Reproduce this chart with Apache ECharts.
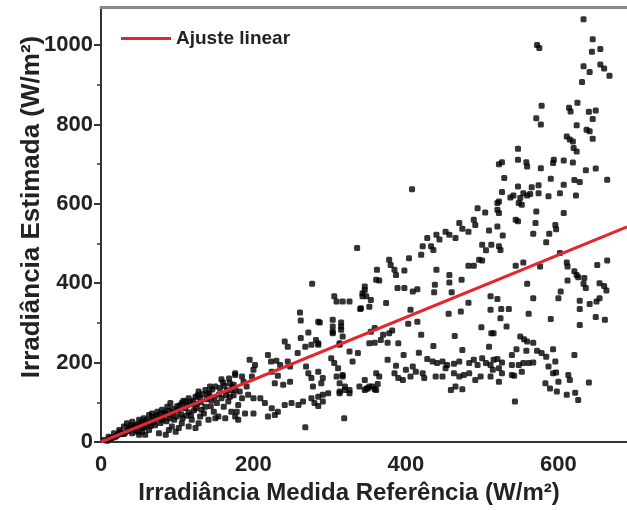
<!DOCTYPE html>
<html>
<head>
<meta charset="utf-8">
<script src="https://cdn.jsdelivr.net/npm/echarts@6/dist/echarts.min.js"></script>
<style>
html,body{margin:0;padding:0;background:#fff;}
#c{width:627px;height:510px;}
</style>
</head>
<body>
<div id="c"></div>
<script>
// ---- data ----
var xTickLabels = [0, 200, 400, 600];
var yTickLabels = [0, 200, 400, 600, 800, 1000];
var yMinorTicks = [100, 300, 500, 700, 900];
var fitName = 'Ajuste linear';
var fitLine = [[0, 0], [690, 542]];

// dense cloud near the origin
var pointsLow = [
[176,173],[158,158],[169,148],[176,131],[143,140],[137,131],[128,127],[124,114],[115,110],[111,102],[106,98],[91,98],[87,89],[80,81],[74,76],[67,72],[63,68],[56,60],[50,56],[41,51],[34,47],[30,39],[24,30],[17,22],[10,13],[4,5],
[167,102],[161,89],[171,76],[163,60],[154,64],[148,76],[141,56],[130,64],[128,47],[119,56],[124,35],[115,39],[106,47],[102,35],[93,39],[89,30],[98,26],[85,18],[76,22],[63,30],[54,26],[58,18],[50,18],[41,22],[37,35],[150,60],[132,81],[137,89],
[45,40],[55,45],[65,55],[75,60],[85,70],[95,75],[100,90],[120,95],[130,110],[140,120],[150,140],[160,150],[20,15],[25,25],[30,20],[45,30],[55,35],[65,40],[70,50],[80,55],[90,60],[105,70],[115,75],[125,85],[8,3],[12,8],[35,28],[60,48],[110,85],[145,105],[155,120],[165,130]
];
// extra points filling the solid band near the origin
var pointsLowBand = [
[14,10],[18,12],[22,18],[27,20],[32,24],[36,32],[39,42],[43,36],[47,44],[48,26],[52,40],[53,50],[57,38],[59,55],[61,44],[66,48],[68,62],[71,42],[72,66],[77,70],[78,48],[82,62],[83,74],[86,52],[88,78],[92,68],[94,84],[96,56],[99,64],[101,80],[103,92],[107,60],[108,104],[112,66],[113,92],[117,100],[118,68],[121,104],[122,80],[126,96],[127,118],[131,100],[133,120],[135,72],[139,108],[142,124],[144,90],[146,132],[149,112],[152,98],[156,136],[158,110],[162,142],[164,118],[168,160],[172,138],[174,118]
];
// middle range 165-365
var pointsMid = [
[336,489],[277,399],[306,367],[309,354],[317,354],[326,354],[346,383],[343,367],[341,337],[261,326],[262,306],[285,303],[304,291],[315,291],[304,274],[317,266],[272,276],[262,262],[268,240],[276,245],[282,257],[285,245],[241,253],[245,240],[258,224],[313,245],[326,228],[330,203],
[219,219],[223,203],[230,205],[235,194],[245,203],[248,190],[195,207],[202,194],[200,182],[198,165],[176,169],[185,165],[187,152],[191,140],[174,144],[171,131],[169,114],[182,127],[185,110],[180,93],[178,76],
[224,177],[232,167],[228,148],[239,144],[248,152],[269,190],[272,173],[276,161],[278,140],[309,165],[317,165],[320,140],[313,127],[326,131],[339,140],[346,131],
[193,119],[200,110],[209,110],[215,98],[224,85],[232,76],[241,93],[250,98],[259,93],[265,102],[276,110],[285,114],[291,119],[298,123],
[176,64],[180,56],[189,72],[200,72],[219,64],[228,68],[319,60],[268,37],[280,98],[285,91],[291,102],
[362,434],[361,409],[346,392],[343,375],[348,367],[354,358],[340,335],[352,341],[287,301],[304,308],[315,301],[315,283],[304,278],[313,249],[285,249],[354,278],[359,287],[337,224],[302,211],[306,199],[311,186],[317,169],[285,177],[291,161],[289,148],[313,148],[320,131],[326,123],[313,123],[350,135],[356,140],[361,131]
];
// range 345-512
var pointsUpperMid = [
[408,637],[494,589],[504,578],[470,552],[474,537],[482,530],[489,560],[491,547],[452,530],[457,522],[465,514],[428,514],[440,522],[444,510],[422,493],[420,472],[433,493],[436,484],[404,463],[500,497],[505,483],[496,459],[500,457],[482,444],[489,444],[378,459],[380,446],[385,434],[387,421],[365,407],[398,432],[440,434],[457,421],[457,402],[473,409],[389,388],[398,388],[409,379],[415,385],[438,396],[437,377],[460,377],[374,350],[511,367],[406,333],[456,323],[472,329],[482,351],[403,298],[415,303],[499,289],[382,281],[378,274],[370,270],[367,257],[359,250],[352,249],[376,250],[390,249],[420,270],[464,267],[436,242],[512,274],[397,219],[417,225],[474,232],[376,207],[387,192],
[428,209],[435,203],[441,199],[448,203],[454,194],[463,197],[470,203],[483,199],[489,207],[494,194],[500,211],[505,199],[511,194],
[400,182],[409,190],[413,177],[422,173],[424,161],[406,165],[396,156],[390,161],[385,173],
[361,173],[365,165],[363,146],[359,133],[352,140],[348,135],
[439,165],[448,165],[452,186],[463,173],[470,165],[476,169],[459,131],[465,140],[474,133],[483,173],[491,156],[498,165],[346,156]
];
// top right (y > 600)
var pointsHigh = [
[633,1065],[572,1000],[575,993],[645,1015],[644,983],[655,990],[633,947],[641,932],[655,951],[660,941],[667,923],[631,907],[578,847],[571,816],[577,800],[614,842],[616,833],[625,855],[640,832],[649,835],[645,814],[624,798],[637,787],[641,783],[645,764],[611,770],[615,762],[619,757],[620,741],[624,732],[547,739],[522,700],[526,705],[547,711],[558,705],[559,694],[594,711],[593,703],[607,709],[619,704],[577,690],[636,685],[649,689],[529,665],[590,663],[621,660],[628,655],[664,661],[607,648],[547,644],[565,642],[574,647],[526,630],[537,616],[541,621],[550,615],[554,627],[559,621],[563,625],[522,606],[574,627],[587,619],[602,627],[623,621]
];
// right side (x > 505, y < 605)
var pointsRight = [
[520,602],[520,585],[522,577],[548,602],[552,598],[571,581],[607,577],[544,560],[547,556],[570,552],[596,547],[597,536],[520,543],[509,533],[527,520],[567,525],[588,525],[584,503],[512,497],[522,493],[524,484],[602,476],[544,444],[554,452],[576,442],[611,452],[612,442],[621,430],[624,421],[626,415],[634,413],[651,446],[664,457],[559,399],[633,399],[636,388],[654,400],[660,393],[663,382],[612,407],[603,379],[600,362],[567,362],[520,360],[628,356],[628,335],[641,348],[650,354],[654,362],[511,333],[525,335],[535,335],[561,323],[524,312],[590,310],[649,315],[661,308],[628,295],[532,291],[515,274],[550,266],[555,259],[559,253],[567,250],[509,240],[545,234],[539,219],[558,230],[572,230],[578,224],[584,215],[593,234],[596,203],[587,190],[621,219],[515,207],[520,209],[526,200],[539,194],[548,194],[554,199],[561,199],[567,200],[514,182],[522,186],[526,173],[539,169],[542,167],[552,177],[593,173],[597,175],[600,152],[613,169],[615,156],[511,165],[522,152],[583,148],[589,135],[598,127],[611,119],[622,124],[626,106],[640,150],[543,102]
];

var xName = 'Irradiância Medida Referência (W/m²)';
var yName = 'Irradiância Estimada (W/m²)';

var scatterData = [].concat(pointsLow, pointsLowBand, pointsMid, pointsUpperMid, pointsHigh, pointsRight);

var FONT = "'Liberation Sans', Arial, Helvetica, sans-serif";
var chart = echarts.init(document.getElementById('c'), null, {renderer: 'canvas'});
chart.setOption({
  animation: false,
  backgroundColor: '#fff',
  grid: {left: 101, right: 0, top: 7, bottom: 68, containLabel: false},
  legend: {
    data: [fitName],
    left: 116, top: 24,
    itemWidth: 50, itemHeight: 16, itemGap: 6,
    icon: 'path://M0,0L50,0L50,3L0,3Z',
    textStyle: {fontFamily: FONT, fontWeight: 'bold', fontSize: 19, color: '#222'}
  },
  xAxis: [{
    type: 'value', min: 0, max: 690, position: 'bottom',
    axisLine: {show: true, onZero: false, lineStyle: {color: '#333', width: 2}},
    axisTick: {show: false},
    axisLabel: {customValues: xTickLabels, formatter: function (v) { return String(v); }, fontFamily: FONT, fontWeight: 'bold', fontSize: 22, color: '#222', margin: 12},
    splitLine: {show: false}
  }, {
    type: 'value', min: 0, max: 690, position: 'top',
    axisLine: {show: true, onZero: false, lineStyle: {color: '#8a8a8a', width: 3}},
    axisTick: {show: false}, axisLabel: {show: false}, splitLine: {show: false}
  }],
  yAxis: [{
    type: 'value', min: 0, max: 1096, position: 'left',
    axisLine: {show: true, onZero: false, lineStyle: {color: '#333', width: 2}},
    axisTick: {show: true, customValues: yTickLabels, length: 7, lineStyle: {color: '#333', width: 2}},
    axisLabel: {customValues: yTickLabels, formatter: function (v) { return String(v); }, fontFamily: FONT, fontWeight: 'bold', fontSize: 22, color: '#222', margin: 8},
    splitLine: {show: false}
  }, {
    type: 'value', min: 0, max: 1096, position: 'left',
    axisLine: {show: false},
    axisTick: {show: true, customValues: yMinorTicks, length: 4, lineStyle: {color: '#333', width: 1.5}},
    axisLabel: {show: false}, splitLine: {show: false}
  }],
  series: [{
    name: 'Medições', type: 'scatter', xAxisIndex: 0, yAxisIndex: 0,
    symbol: 'roundRect', symbolSize: 6,
    itemStyle: {color: '#000'},
    data: scatterData, z: 2
  }, {
    name: fitName, type: 'line', xAxisIndex: 0, yAxisIndex: 0,
    symbol: 'none', showSymbol: false,
    lineStyle: {color: '#e3262f', width: 3},
    itemStyle: {color: '#e3262f'},
    data: fitLine, z: 3
  }],
  graphic: [{
    type: 'text', x: 349, y: 493,
    style: {text: xName, fill: '#222', font: "bold 24px " + FONT, align: 'center', verticalAlign: 'middle'}
  }, {
    type: 'text', x: 32, y: 207, rotation: Math.PI / 2,
    style: {text: yName, fill: '#222', font: "bold 26px " + FONT, align: 'center', verticalAlign: 'middle'}
  }]
});
</script>
</body>
</html>
